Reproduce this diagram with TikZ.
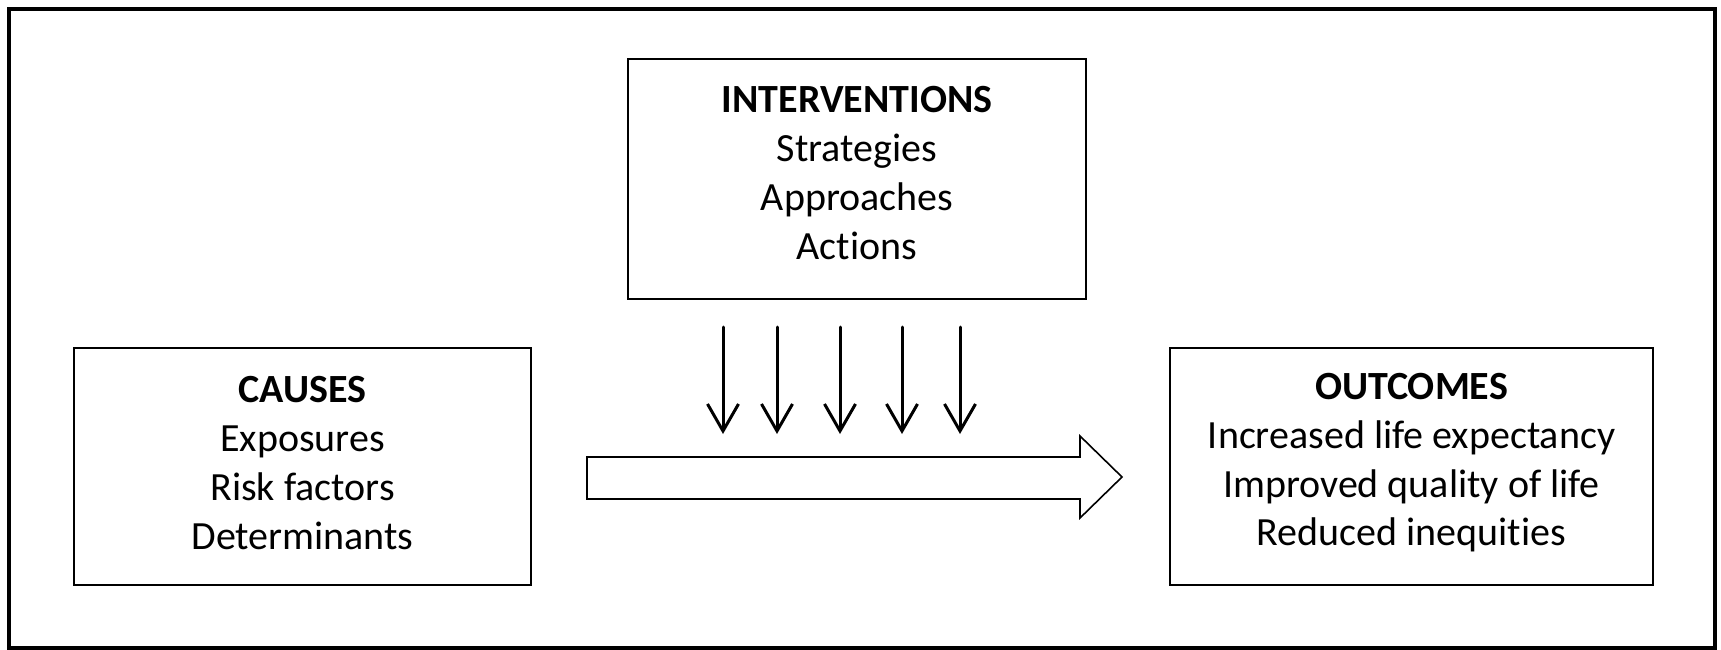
\documentclass[tikz,border=0pt]{standalone}
\usepackage{fontspec}
\setmainfont{Carlito}[Ligatures=NoCommon]
\usetikzlibrary{arrows.meta}
\begin{document}
\begin{tikzpicture}[x=1pt,y=-1pt,
  frame/.style={draw=black,line width=3.2pt},
  infobox/.style={draw=black,line width=1.6pt,inner sep=0pt},
  infotext/.style={inner sep=0pt,align=center,
    font=\fontsize{40}{48.7}\selectfont},
  pusharrow/.style={line width=3pt,line cap=round,
    -{Straight Barb[length=27pt,width=31pt,line width=3pt]}},
  bigarrow/.style={draw=black,line width=1.6pt,fill=white,line join=miter}]
\useasboundingbox (0,0) rectangle (1721,650);
\fill[white] (0,0) rectangle (1721,650);
% outer frame
\draw[frame] (9,9) rectangle (1715,648);
% the three boxes
\node[infobox,minimum width=458pt,minimum height=240pt] (interv) at (857,179) {};
\node[infobox,minimum width=457pt,minimum height=237pt] (causes) at (302.5,466.5) {};
\node[infobox,minimum width=483pt,minimum height=237pt] (outcomes) at (1411.5,466.5) {};
% their texts
\node[infotext] (intervtext) at ([yshift=6pt]interv.center)
  {\textbf{INTERVENTIONS}\\Strategies\\Approaches\\Actions};
\node[infotext] (causestext) at ([yshift=3.5pt]causes.center)
  {\textbf{CAUSES}\\Exposures\\Risk factors\\Determinants};
\node[infotext] (outcomestext) at ([yshift=3.5pt]outcomes.center)
  {\textbf{OUTCOMES}\\Increased life expectancy\\Improved quality of life\\Reduced inequities};
% block arrow from causes to outcomes
\draw[bigarrow] (587,457) -- (1080,457) -- (1080,436) -- (1122,477)
  -- (1080,518) -- (1080,499) -- (587,499) -- cycle;
% arrows pressing down on the block arrow
\foreach \i/\x in {1/723,2/777,3/840,4/902,5/960}{
  \coordinate (top\i) at (\x,327);
  \coordinate (tip\i) at (\x,434);
  \draw[pusharrow] (top\i) -- (tip\i);
}
\end{tikzpicture}
\end{document}
